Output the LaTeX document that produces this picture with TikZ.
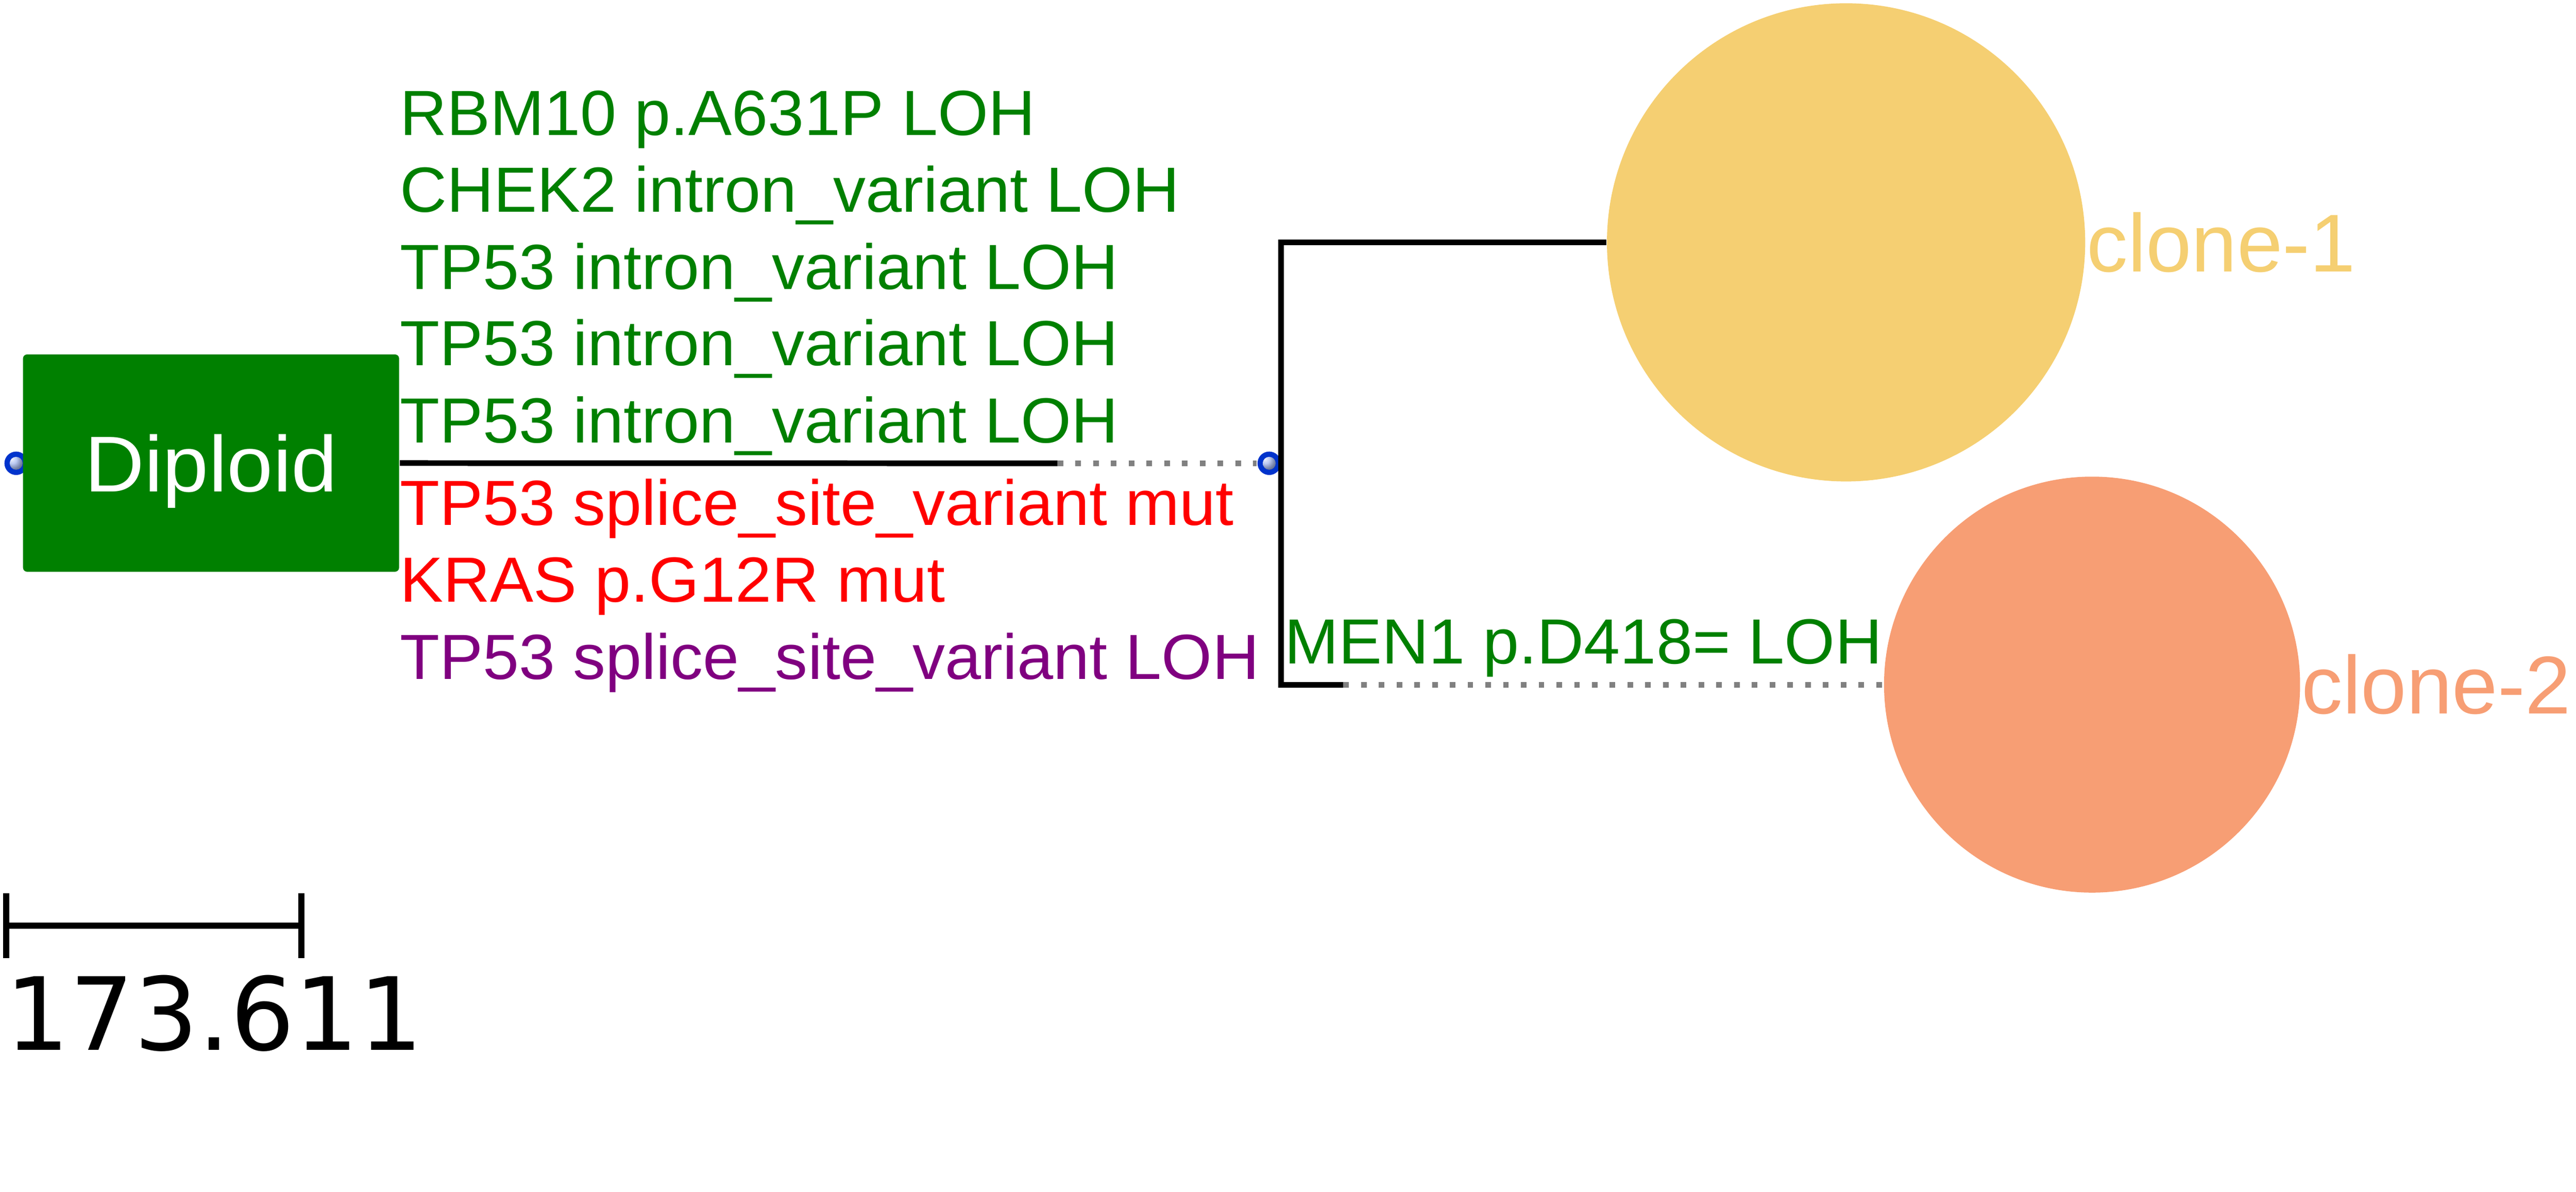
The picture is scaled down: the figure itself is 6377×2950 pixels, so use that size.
\documentclass[tikz,border=0pt]{standalone}
\usepackage{fontspec}
\setmainfont{Liberation Sans}
\newfontfamily\mutfont[FakeStretch=1.018]{Liberation Sans}
\newfontfamily\boxfont[FakeStretch=1.045]{Liberation Sans}
\newfontfamily\scalefont{DejaVu Sans}
\usetikzlibrary{positioning}
\definecolor{mutgreen}{HTML}{008000}
\definecolor{mutred}{HTML}{FF0000}
\definecolor{mutpurple}{HTML}{800080}
\definecolor{clonegold}{HTML}{F5CF72}
\definecolor{clonesalmon}{HTML}{F79E74}
\definecolor{knobblue}{HTML}{0033CC}
\definecolor{stubgray}{HTML}{808080}
\tikzset{
  knob/.style={circle, inner sep=0pt, minimum size=5.8pt, fill=knobblue,
    path picture={\shade[ball color=knobblue!35!white] (path picture bounding box.center) circle (1.6pt);}},
  diploidbox/.style={rectangle, rounded corners=1pt, fill=mutgreen, text=white,
    minimum width=93.1pt, minimum height=53.8pt, inner sep=0pt, text depth=0pt,
    font=\boxfont\fontsize{19.6}{23}\selectfont},
  clonedisc/.style={circle, inner sep=0pt},
  clonelbl/.style={inner sep=0pt, font=\fontsize{20.3}{25}\selectfont},
  mutlbl/.style={anchor=base west, inner sep=0pt, font=\mutfont\fontsize{15.8}{19}\selectfont},
  branch/.style={line width=1.4pt},
  stub/.style={line width=1.4pt, draw=stubgray, dash pattern=on 1.4pt off 3pt},
  scalebar/.style={line width=1.5pt},
  scalelbl/.style={anchor=base west, inner sep=0pt, font=\scalefont\fontsize{25}{30}\selectfont},
}
\begin{document}
\begin{tikzpicture}[x=0.1pt, y=-0.1pt]
  \useasboundingbox (0,0) rectangle (6377,2950);
  % root
  \node[knob] (root) at (40,1147) {};
  \node[diploidbox] (diploid) at (522.5,1146.5) {Diploid};
  % clones
  \node[clonedisc, fill=clonegold, minimum size=118.4pt] (clone1) at (4570,600) {};
  \node[clonelbl, text=clonegold, right=0pt of clone1] (clone1lbl) {clone-1};
  \node[clonedisc, fill=clonesalmon, minimum size=103pt] (clone2) at (5179,1695) {};
  \node[clonelbl, text=clonesalmon, right=0pt of clone2] (clone2lbl) {clone-2};
  \node[knob] (fork) at (3142,1147) {};
  % branches
  \coordinate (trunkend) at (2618,1147);
  \coordinate (forktop) at (3171,600);
  \coordinate (forkbot) at (3171,1695);
  \coordinate (twigend) at (3325,1695);
  \draw[branch] (diploid.east) -- (trunkend);
  \draw[stub] (trunkend) -- (fork);
  \draw[branch] (clone1.west) -- (forktop) -- (forkbot) -- (twigend);
  \draw[stub] (twigend) -- (clone2.west);
  % mutations
  \foreach \i/\yb/\col/\txt in {
    1/335/mutgreen/RBM10 p.A631P LOH,
    2/525/mutgreen/CHEK2 intron\_variant LOH,
    3/716/mutgreen/TP53 intron\_variant LOH,
    4/905/mutgreen/TP53 intron\_variant LOH,
    5/1096/mutgreen/TP53 intron\_variant LOH,
    6/1300/mutred/TP53 splice\_site\_variant mut,
    7/1490/mutred/KRAS p.G12R mut,
    8/1681/mutpurple/TP53 splice\_site\_variant LOH}
    \node[mutlbl, text=\col] (mut\i) at (988,\yb) {\txt};
  \node[mutlbl, text=mutgreen] (mut9) at (3178,1643) {MEN1 p.D418= LOH};
  % scale
  \coordinate (scaleleft) at (15,2292);
  \coordinate (scaleright) at (746,2292);
  \draw[scalebar] (scaleleft) -- (scaleright);
  \draw[scalebar] ([yshift=8pt]scaleleft) -- ([yshift=-8pt]scaleleft);
  \draw[scalebar] ([yshift=8pt]scaleright) -- ([yshift=-8pt]scaleright);
  \node[scalelbl] (scaletext) at (12,2600) {173.611};
\end{tikzpicture}
\end{document}
